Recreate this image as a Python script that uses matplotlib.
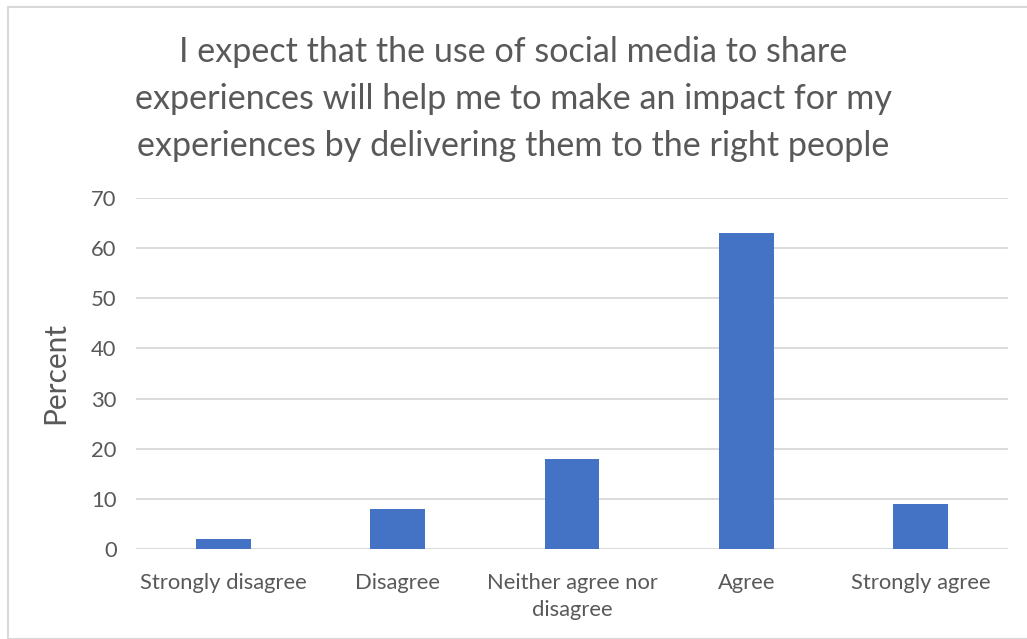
import matplotlib.pyplot as plt
from matplotlib.patches import Rectangle

categories = ["Strongly disagree", "Disagree", "Neither agree nor\ndisagree", "Agree", "Strongly agree"]
percent = [2, 8, 18, 63, 9]
y_ticks = [0, 10, 20, 30, 40, 50, 60, 70]
title = ("I expect that the use of social media to share\n"
         "experiences will help me to make an impact for my\n"
         "experiences by delivering them to the right people")

W, H = 1027, 639
fig = plt.figure(figsize=(W / 100, H / 100), dpi=100)
plt.rcParams["font.family"] = ["Lato", "DejaVu Sans"]
text_col = "#595959"

# chart border
fig.patches.append(Rectangle((8 / W, 0), 1.2, 1 - 7 / H, transform=fig.transFigure,
                             fill=False, edgecolor="#d9d9d9", linewidth=1.5))

ax = fig.add_axes([136 / W, 1 - 549 / H, (1008 - 136) / W, (549 - 198) / H])
x = range(len(categories))
ax.bar(x, percent, width=0.315, color="#4472C4", zorder=3)
ax.set_xlim(-0.5, len(categories) - 0.5)
ax.set_ylim(0, 70)
ax.set_yticks(y_ticks)
ax.set_xticks(list(x))
ax.set_xticklabels(categories, fontsize=15.8, color=text_col, linespacing=1.45)
ax.tick_params(axis="y", labelsize=15.8, labelcolor=text_col, length=0, pad=14)
ax.tick_params(axis="x", length=0, pad=17)
ax.grid(axis="y", color="#d9d9d9", linewidth=1.3, zorder=0)
for s in ax.spines.values():
    s.set_visible(False)
ax.set_ylabel("Percent", fontsize=21.5, color=text_col, labelpad=16)

fig.text(0.5, 1 - 99 / H, title, ha="center", va="center", fontsize=24.6,
         color=text_col, linespacing=1.58)

fig.savefig("out.png", dpi=100)
